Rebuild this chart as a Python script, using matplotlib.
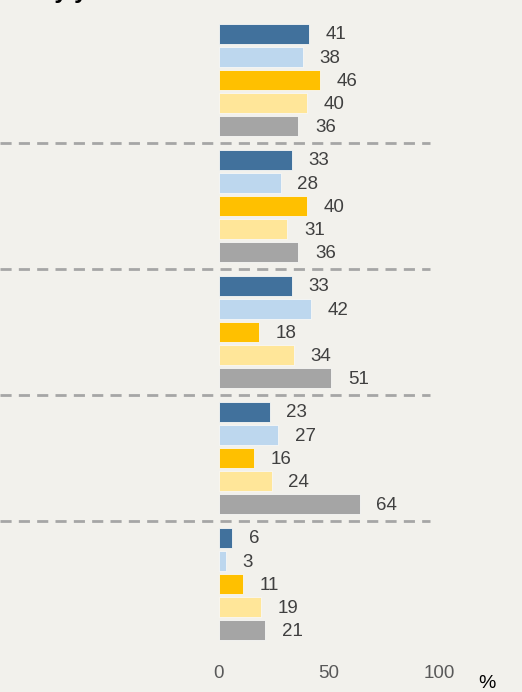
import matplotlib.pyplot as plt

# values per group (5 groups, 5 series each)
group1 = [41, 38, 46, 40, 36]
group2 = [33, 28, 40, 31, 36]
group3 = [33, 42, 18, 34, 51]
group4 = [23, 27, 16, 24, 64]
group5 = [6, 3, 11, 19, 21]
groups = [group1, group2, group3, group4, group5]

colors = ['#41719C', '#BDD7EE', '#FFC000', '#FFE699', '#A5A5A5']
ticks = [0, 50, 100]

bg = '#F2F1EC'
plt.rcParams['font.family'] = ['Liberation Sans', 'DejaVu Sans']

W, H = 522, 692
fig = plt.figure(figsize=(W / 100, H / 100), dpi=100, facecolor=bg)
axh = 650
ax = fig.add_axes([0, 1 - axh / H, 1, axh / H])
ax.set_facecolor(bg)

# layout in pixels
x0 = 219
scale = 2.2
first = 33.5
gstep = 126
bstep = 23.2
bh = 20

for g, vals in enumerate(groups):
    for i, v in enumerate(vals):
        yc = first + g * gstep + i * bstep
        ax.barh(yc, v, height=bh, color=colors[i], edgecolor='#F8F8F6', linewidth=0.6)
        ax.annotate(str(v), (v, yc), xytext=(12, -1), textcoords='offset points',
                    ha='left', va='center', fontsize=13.5, color='#404040')
    if g < len(groups) - 1:
        ysep = first + g * gstep + 4 * bstep + (gstep - 4 * bstep) / 2
        ax.plot([-x0 / scale, 96], [ysep, ysep], color='#A6A6A6', lw=2,
                dashes=(4, 2.6), solid_capstyle='butt')

ax.set_xlim(-x0 / scale, (W - x0) / scale)
ax.set_ylim(axh, 0)
ax.set_xticks(ticks)
ax.set_xticklabels([str(t) for t in ticks], fontsize=13.5, color='#595959')
ax.tick_params(axis='x', length=0, pad=11)
ax.set_yticks([])
for s in ax.spines.values():
    s.set_visible(False)

fig.text(487 / W, 1 - 684 / H, '%', ha='center', va='center', fontsize=14, color='black')
# title, cut off at the top of the picture
fig.text(40 / W, 1 + 2 / H, 'by year', ha='left', va='baseline', fontsize=17,
         fontweight='bold', color='black')

fig.savefig('out.png', dpi=100, facecolor=bg)
